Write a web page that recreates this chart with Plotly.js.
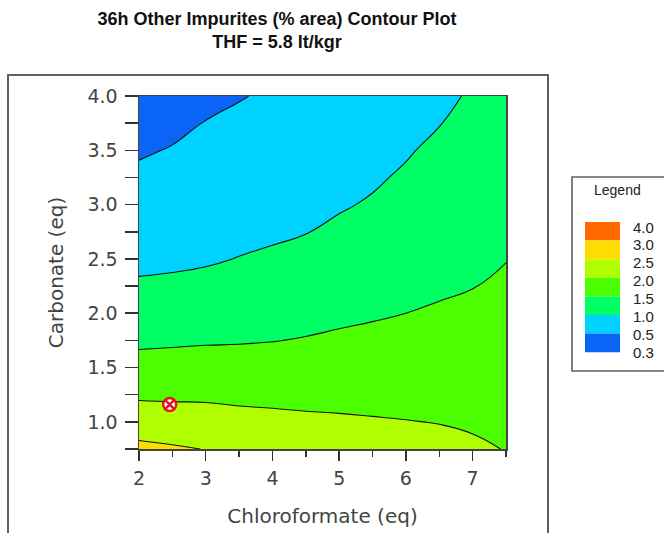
<!DOCTYPE html>
<html>
<head>
<meta charset="utf-8">
<script src="https://cdn.plot.ly/plotly-3.0.1.min.js"></script>
<style>html,body{margin:0;padding:0;background:#fff;}#chart{width:664px;height:533px;}</style>
</head>
<body>
<div id="chart"></div>
<script>
// Chloroformate (eq) grid
var xVals = [2, 2.5, 3, 3.5, 4, 4.5, 5, 5.5, 6, 6.5, 7, 7.5];
// Carbonate (eq) grid
var yVals = [0.75, 1.0, 1.25, 1.5, 1.75, 2.0, 2.25, 2.5, 2.75, 3.0, 3.25, 3.5, 3.75, 4.0];
// Impurity (% area), one column per x value, listed bottom (y=0.75) to top (y=4.0)
var col_x2_0 = [2.61, 2.26, 1.93, 1.66, 1.42, 1.23, 1.05, 0.91, 0.80, 0.68, 0.57, 0.46, 0.35, 0.25];
var col_x2_5 = [2.55, 2.23, 1.92, 1.67, 1.44, 1.25, 1.07, 0.93, 0.83, 0.73, 0.63, 0.52, 0.42, 0.32];
var col_x3_0 = [2.49, 2.20, 1.92, 1.68, 1.46, 1.28, 1.10, 0.96, 0.87, 0.78, 0.69, 0.60, 0.51, 0.42];
var col_x3_5 = [2.40, 2.14, 1.90, 1.68, 1.47, 1.31, 1.14, 1.01, 0.91, 0.82, 0.74, 0.65, 0.57, 0.48];
var col_x4_0 = [2.33, 2.10, 1.90, 1.69, 1.49, 1.34, 1.19, 1.05, 0.95, 0.86, 0.79, 0.71, 0.63, 0.55];
var col_x4_5 = [2.28, 2.07, 1.89, 1.71, 1.52, 1.38, 1.25, 1.11, 0.99, 0.91, 0.84, 0.77, 0.69, 0.62];
var col_x5_0 = [2.24, 2.05, 1.89, 1.72, 1.56, 1.42, 1.30, 1.18, 1.06, 0.97, 0.90, 0.83, 0.77, 0.70];
var col_x5_5 = [2.18, 2.03, 1.88, 1.74, 1.59, 1.46, 1.35, 1.25, 1.14, 1.03, 0.96, 0.91, 0.85, 0.80];
var col_x6_0 = [2.14, 2.01, 1.88, 1.75, 1.62, 1.50, 1.41, 1.31, 1.22, 1.13, 1.04, 0.97, 0.93, 0.88];
var col_x6_5 = [2.10, 1.99, 1.88, 1.76, 1.65, 1.54, 1.45, 1.37, 1.30, 1.22, 1.14, 1.07, 0.99, 0.96];
var col_x7_0 = [2.05, 1.96, 1.86, 1.77, 1.68, 1.58, 1.49, 1.42, 1.36, 1.29, 1.22, 1.15, 1.09, 1.02];
var col_x7_5 = [1.99, 1.93, 1.86, 1.78, 1.71, 1.64, 1.56, 1.49, 1.43, 1.38, 1.32, 1.26, 1.21, 1.15];

// design point
var pointX = [2.46];
var pointY = [1.16];

// legend
var legendLabels = ['4.0', '3.0', '2.5', '2.0', '1.5', '1.0', '0.5', '0.3'];
var bandColors = ['#0A64F5', '#00D2FF', '#00FF64', '#4CFF00', '#B0FF00', '#FFDC00', '#FF6A00']; // low -> high

var cols = [col_x2_0, col_x2_5, col_x3_0, col_x3_5, col_x4_0, col_x4_5, col_x5_0, col_x5_5, col_x6_0, col_x6_5, col_x7_0, col_x7_5];
var z = yVals.map(function (_, j) { return cols.map(function (c) { return c[j]; }); });

var colorscale = bandColors.map(function (c, i) { return [i / (bandColors.length - 1), c]; });

var contour = {
  type: 'contour', x: xVals, y: yVals, z: z,
  autocontour: false,
  contours: { start: 0.5, end: 3.0, size: 0.5, coloring: 'fill', showlines: true },
  line: { color: '#111', width: 1.1, smoothing: 1.3 },
  colorscale: colorscale, showscale: false, hoverinfo: 'skip'
};
var marker = {
  type: 'scatter', mode: 'markers', x: pointX, y: pointY,
  marker: { symbol: 'circle-x', size: 13, color: '#ffffff', line: { color: '#E8141E', width: 2.5 } },
  showlegend: false, hoverinfo: 'skip'
};

// plot area in pixels: x 139..506, y 96..449
var L = 139, R = 506, T = 96, B = 449, W = R - L, H = B - T;
function px(x) { return (x - L) / W; }
function py(y) { return (B - y) / H; }

var shapes = [
  { type: 'rect', xref: 'paper', yref: 'paper', x0: px(8), x1: px(548), y0: py(75), y1: py(545), line: { color: '#606060', width: 2 }, fillcolor: 'rgba(0,0,0,0)', layer: 'below' },
  { type: 'rect', xref: 'paper', yref: 'paper', x0: px(572), x1: px(672), y0: py(177), y1: py(371), line: { color: '#606060', width: 1.6 }, fillcolor: 'rgba(0,0,0,0)' }
];
var annotations = [
  { xref: 'paper', yref: 'paper', x: px(617), y: py(190), text: 'Legend', showarrow: false, xanchor: 'center', yanchor: 'middle', font: { family: 'Liberation Sans, Arial, sans-serif', size: 14, color: '#222' } }
];
var swTop = 222, swH = 18.6;
for (var i = 0; i < bandColors.length; i++) {
  var c = bandColors[bandColors.length - 1 - i];
  shapes.push({ type: 'rect', xref: 'paper', yref: 'paper', x0: px(585), x1: px(620), y0: py(swTop + i * swH), y1: py(swTop + (i + 1) * swH), line: { width: 0 }, fillcolor: c });
}
for (var k = 0; k < legendLabels.length; k++) {
  annotations.push({ xref: 'paper', yref: 'paper', x: px(631), y: py(227 + k * 17.9), text: legendLabels[k], showarrow: false, xanchor: 'left', yanchor: 'middle', font: { family: 'Liberation Sans, Arial, sans-serif', size: 15, color: '#222' } });
}

var tickFont = { family: 'DejaVu Sans, sans-serif', size: 19, color: '#444' };
var layout = {
  width: 664, height: 533,
  margin: { l: L, r: 664 - R, t: T, b: 533 - B, pad: 0 },
  paper_bgcolor: '#ffffff', plot_bgcolor: '#ffffff',
  title: { text: '<b>36h Other Impurites (% area) Contour Plot<br>THF = 5.8 lt/kgr</b>', x: 277 / 664, xanchor: 'center', y: 0.953, yanchor: 'top', font: { family: 'Liberation Sans Narrow, Arial Narrow, Liberation Sans, sans-serif', size: 18, color: '#111' } },
  xaxis: {
    range: [2, 7.5], tickmode: 'linear', tick0: 2, dtick: 1, ticks: 'outside', ticklen: 10, tickwidth: 1.5, tickcolor: '#333',
    minor: { tickmode: 'linear', tick0: 2.5, dtick: 1, ticks: 'outside', ticklen: 6, tickwidth: 1.5, tickcolor: '#333' },
    showline: true, linecolor: '#444', linewidth: 1.5, mirror: true, showgrid: false, zeroline: false,
    tickfont: tickFont, tickformat: 'd', ticklabelstandoff: 2,
    title: { text: 'Chloroformate (eq)', font: { family: 'DejaVu Sans, sans-serif', size: 20, color: '#444' }, standoff: 20 }
  },
  yaxis: {
    range: [0.75, 4.0], tickmode: 'linear', tick0: 1.0, dtick: 0.5, ticks: 'outside', ticklen: 13, tickwidth: 1.5, tickcolor: '#333',
    minor: { tickmode: 'linear', tick0: 0.75, dtick: 0.5, ticks: 'outside', ticklen: 13, tickwidth: 1.5, tickcolor: '#333' },
    showline: true, linecolor: '#444', linewidth: 1.5, mirror: true, showgrid: false, zeroline: false,
    tickfont: tickFont, tickformat: '.1f', ticklabelstandoff: 3,
    title: { text: 'Carbonate (eq)', font: { family: 'DejaVu Sans, sans-serif', size: 20, color: '#444' }, standoff: 18 }
  },
  shapes: shapes, annotations: annotations, showlegend: false
};
Plotly.newPlot('chart', [contour, marker], layout, { displayModeBar: false, staticPlot: true });
</script>
</body>
</html>
